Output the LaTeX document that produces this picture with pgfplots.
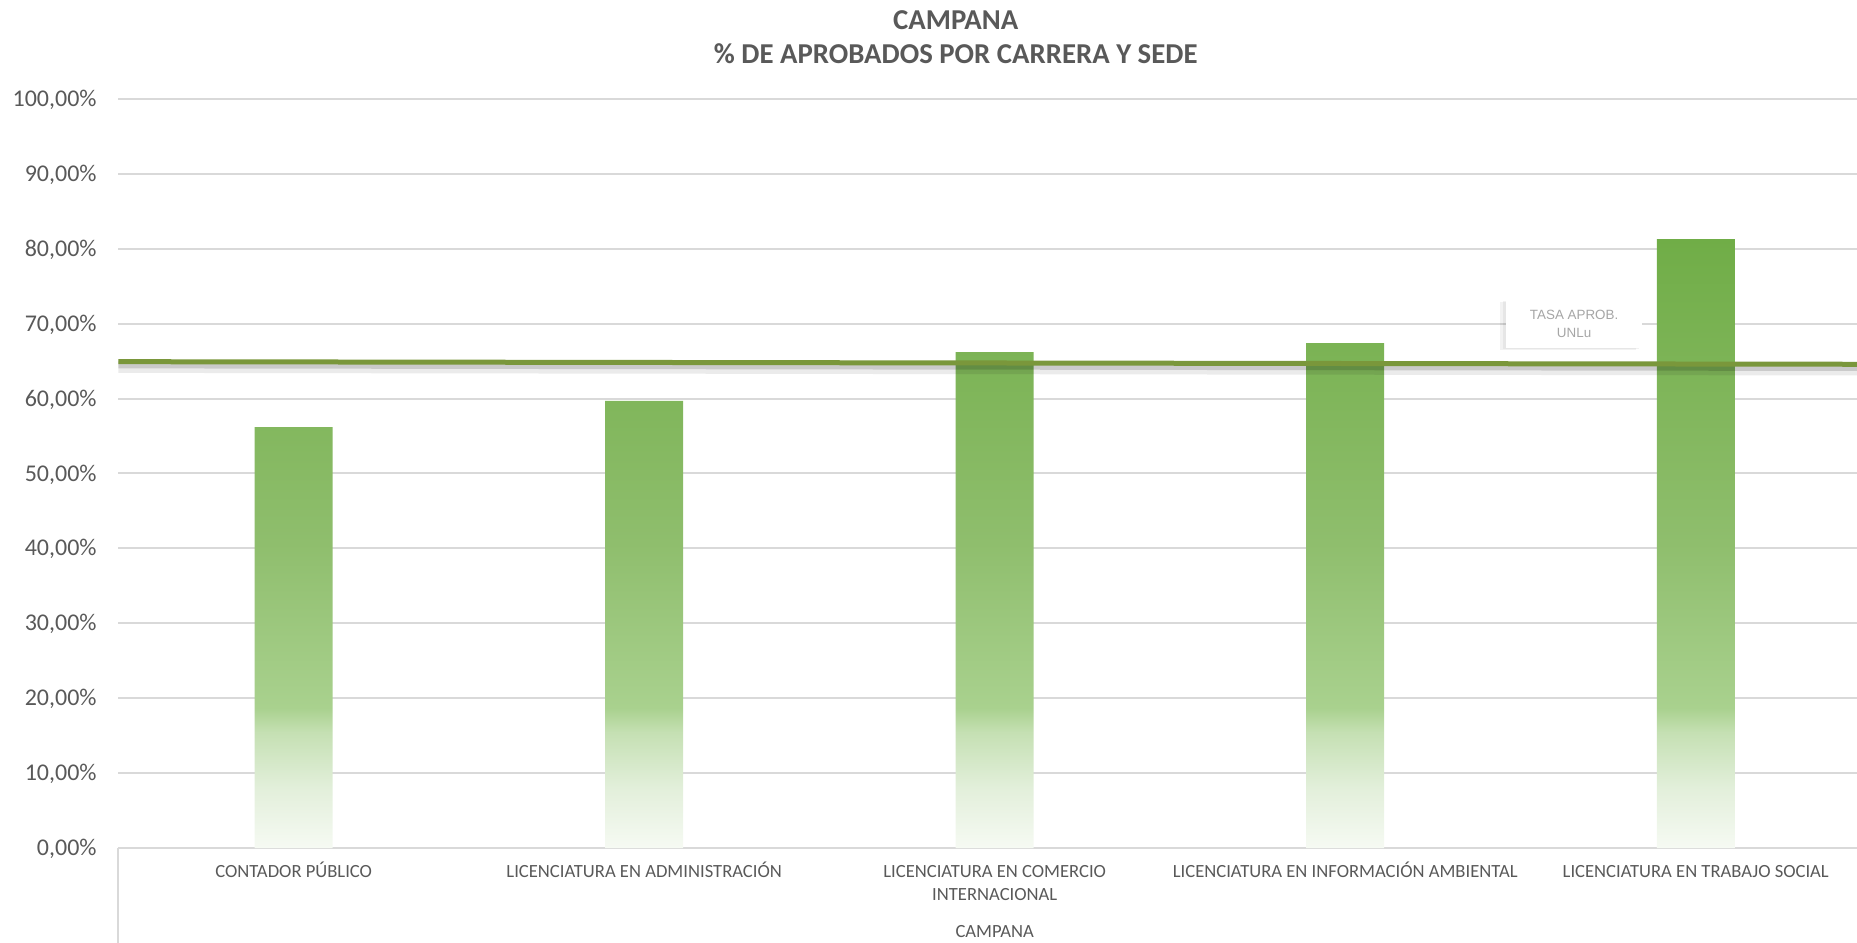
\documentclass[border=0pt]{standalone}
\usepackage{pgfplots}
\pgfplotsset{compat=1.18}
\usepackage{fontspec}
\setmainfont{Carlito}
\newfontfamily\arialf{Liberation Sans}
\usetikzlibrary{shadows}

\definecolor{txt}{HTML}{595959}
\definecolor{gridc}{HTML}{D9D9D9}
\definecolor{linec}{HTML}{7A973B}
\definecolor{lbl}{HTML}{A6A6A6}
\definecolor{bzero}{HTML}{F6FAF3}
\definecolor{bone}{HTML}{E2EFDA}
\definecolor{btwo}{HTML}{C5E0B3}
\definecolor{bthree}{HTML}{A9D18E}
\definecolor{bfour}{HTML}{8FBE6D}
\definecolor{bfive}{HTML}{70AD47}

\pgfdeclareverticalshading{barshade}{100bp}{%
  color(0bp)=(bzero); color(25bp)=(bzero); color(30bp)=(bone);
  color(34.5bp)=(btwo); color(36.5bp)=(bthree); color(50bp)=(bfour);
  color(75bp)=(bfive); color(100bp)=(bfive)}

\begin{document}
\begin{tikzpicture}
\begin{axis}[
  scale only axis,
  width=876.3pt, height=374.5pt,
  xmin=-0.5, xmax=4.5, ymin=0, ymax=100,
  axis line style={draw=none},
  tick style={draw=none},
  major tick length=0pt,
  ymajorgrids,
  grid style={gridc, line width=1pt},
  ytick={0,10,...,100},
  yticklabels={{0,00\%},{10,00\%},{20,00\%},{30,00\%},{40,00\%},{50,00\%},{60,00\%},{70,00\%},{80,00\%},{90,00\%},{100,00\%}},
  yticklabel style={font=\fontsize{12}{14}\selectfont, color=txt, inner sep=0pt, anchor=base east, xshift=-10.7pt, yshift=-3.8pt},
  xtick={0,1,2,3,4},
  xticklabels={{\strut CONTADOR PÚBLICO},{\strut LICENCIATURA EN ADMINISTRACIÓN},{\strut LICENCIATURA EN COMERCIO\\INTERNACIONAL},{\strut LICENCIATURA EN INFORMACIÓN AMBIENTAL},{\strut LICENCIATURA EN TRABAJO SOCIAL}},
  xticklabel style={font=\fontsize{9.3}{11.25}\selectfont, color=txt, inner sep=0pt, anchor=north, align=center, yshift=-6.9pt},
  clip=false,
]
\addplot[ybar, bar width=39pt, draw=none, shading=barshade]
  coordinates {(0,56.2) (1,59.7) (2,66.2) (3,67.4) (4,81.3)};
\addplot[black, opacity=0.08, line width=6pt, yshift=-2.6pt]
  coordinates {(-0.5,64.93) (4.5,64.58)};
\addplot[black, opacity=0.14, line width=3.5pt, yshift=-1.6pt]
  coordinates {(-0.5,64.93) (4.5,64.58)};
\addplot[linec, line width=2.5pt]
  coordinates {(-0.5,64.93) (4.5,64.58)};

\draw[gridc, line width=1pt] (axis cs:-0.5,0) -- ([yshift=-50pt]axis cs:-0.5,0);
\node[font=\fontsize{9.3}{11.25}\selectfont, color=txt] at ([yshift=-42pt]axis cs:2,0) {CAMPANA};

\node[fill=white, minimum width=68pt, minimum height=24pt, inner sep=0pt,
      align=center, font=\arialf\fontsize{6.7}{9}\selectfont, text=lbl,
      drop shadow={shadow xshift=-3pt, shadow yshift=-1.2pt, opacity=0.05, fill=black},
      drop shadow={shadow xshift=-1.5pt, shadow yshift=-0.6pt, opacity=0.05, fill=black}]
  at (axis cs:3.653,70) {TASA APROB.\\UNLu};

\node[anchor=base, font=\bfseries\fontsize{14.4}{16}\selectfont, color=txt]
  at ([yshift=34.9pt]axis cs:1.889,100) {CAMPANA};
\node[anchor=base, font=\bfseries\fontsize{14.4}{16}\selectfont, color=txt]
  at ([yshift=17.6pt]axis cs:1.889,100) {\% DE APROBADOS POR CARRERA Y SEDE};
\end{axis}
\pgfresetboundingbox
\useasboundingbox (-59.2pt,-47pt) rectangle (869.3pt,424pt);
\end{tikzpicture}
\end{document}
